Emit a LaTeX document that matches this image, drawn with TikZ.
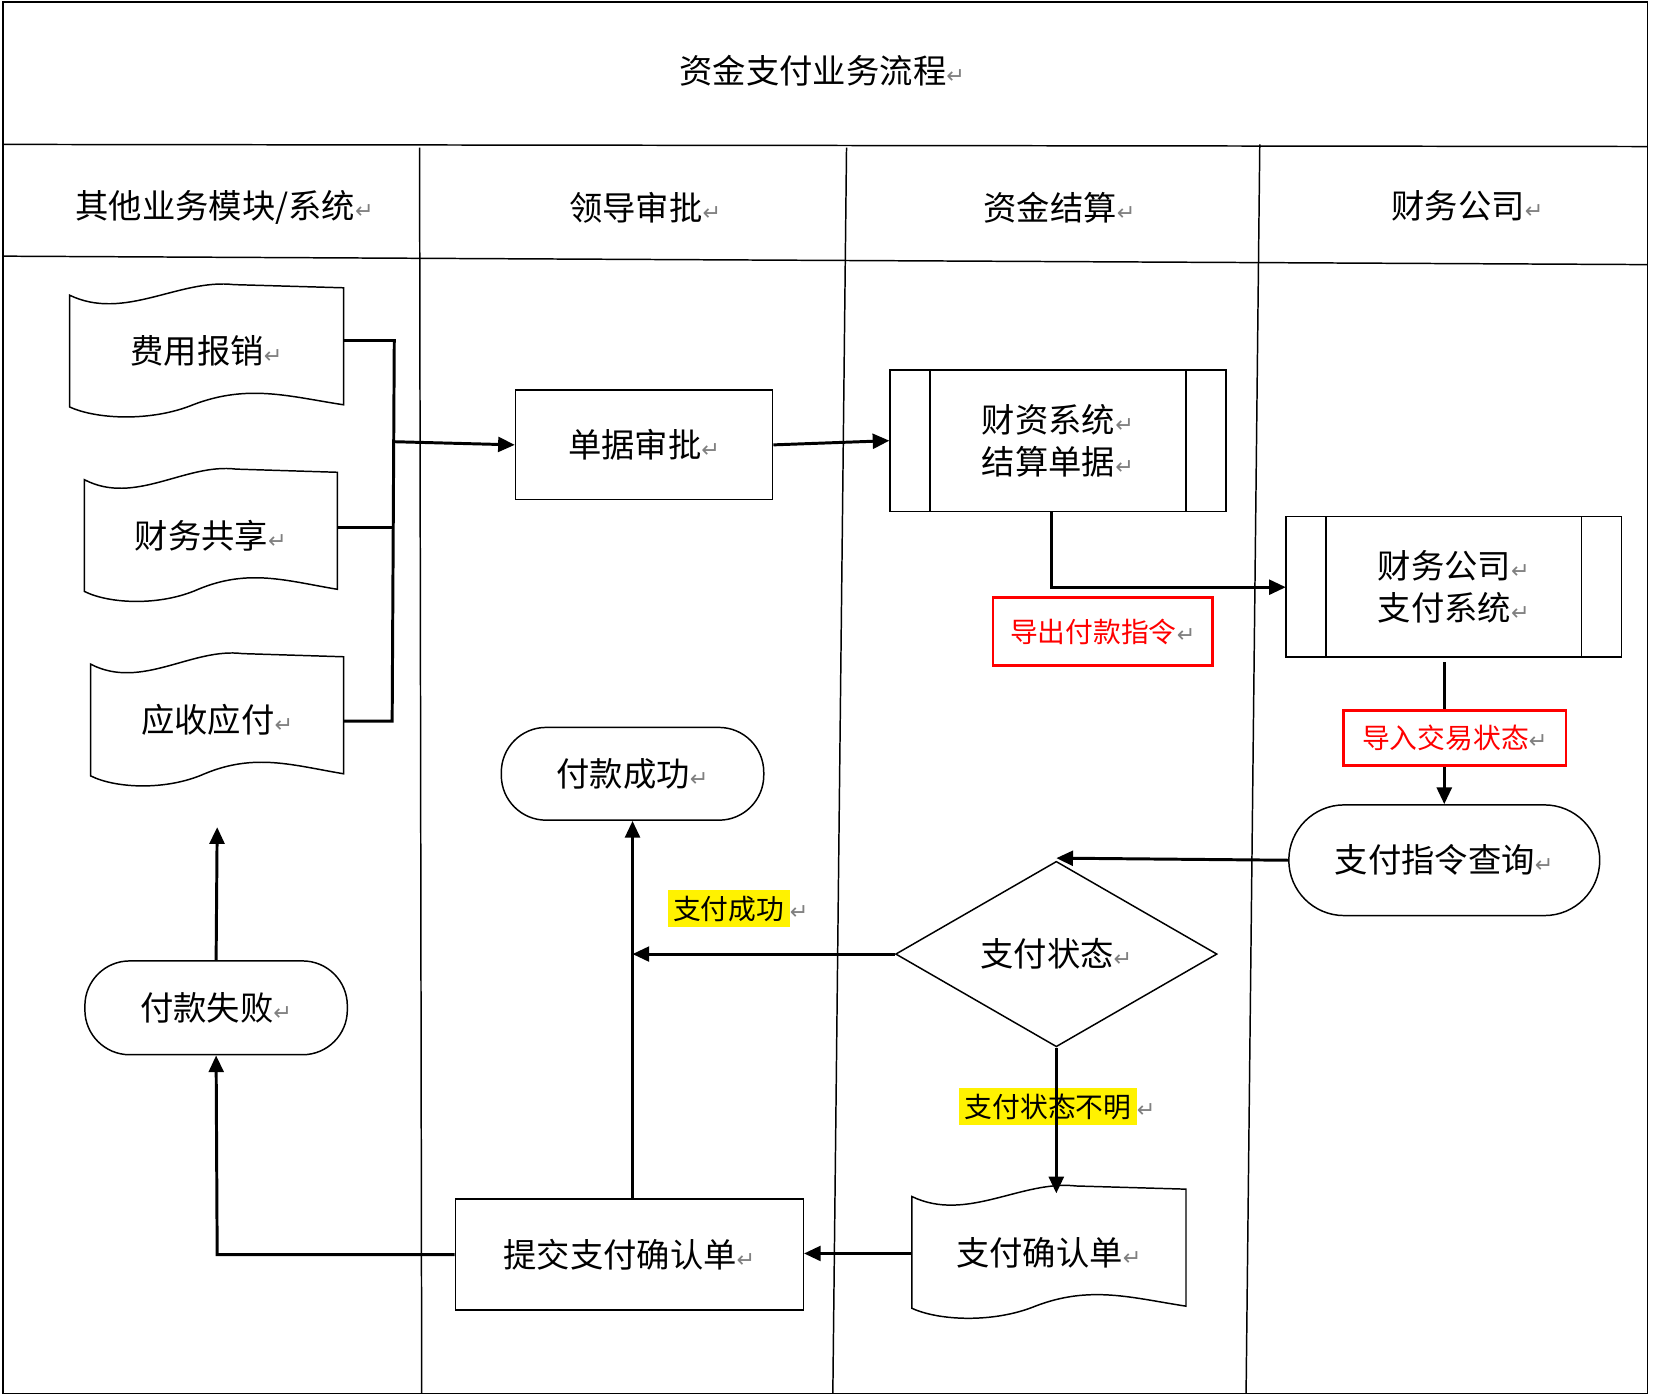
\documentclass[tikz,border=0pt]{standalone}
\usepackage{fontspec}
\setmainfont{Noto Sans CJK SC}
\newfontfamily\symf{DejaVu Sans}
\usetikzlibrary{arrows.meta,shapes.geometric}
\newcommand\pmk{\textcolor{gray}{\symf\fontsize{12}{12}\selectfont ↵}}
\tikzset{
  lane/.style={line width=0.8pt},
  flow/.style={line width=1.6pt},
  arr/.style={flow,-{Triangle[length=9pt,width=8pt]}},
  box/.style={draw,line width=0.8pt,inner sep=0pt},
  txt/.style={font=\fontsize{18}{23}\selectfont,align=center},
}
% wavy document: name, x1, y1, x2, y2, text
\newcommand\docnode[6]{%
  \node[txt,inner sep=0pt] (#1) at ({(#2+#4)/2},{(#3+#5)/2}) {#6};
  \draw[line width=0.8pt] (#2,{#3+10}) .. controls ({#2+0.2*(#4-#2)},{#3+35}) and ({#2+0.4*(#4-#2)},{#3-6}) .. ({#2+0.6*(#4-#2)},#3)
     -- (#4,{#3+3}) -- (#4,{#5-12}) .. controls ({#2+0.8*(#4-#2)},{#5-20}) and ({#2+0.65*(#4-#2)},{#5-32}) .. ({#2+0.45*(#4-#2)},{#5-12})
     .. controls ({#2+0.3*(#4-#2)},{#5+4}) and ({#2+0.1*(#4-#2)},{#5+2}) .. (#2,{#5-10}) -- cycle;
  \coordinate (#1-n) at ({(#2+#4)/2},#3);
  \coordinate (#1-s) at ({(#2+#4)/2},#5);
}
% box with double sides: name, x1, y1, x2, y2, inset, text
\newcommand\procnode[7]{%
  \draw[line width=0.8pt] (#2,#3) rectangle (#4,#5) ({#2+#6},#3) -- ({#2+#6},#5) ({#4-#6},#3) -- ({#4-#6},#5);
  \node[txt,minimum width={(#4-#2)*0.02cm},minimum height={(#5-#3)*0.02cm},inner sep=0pt] (#1) at ({(#2+#4)/2},{(#3+#5)/2}) {#7};
}
\begin{document}
\begin{tikzpicture}[x=0.02cm,y=-0.02cm]
  \useasboundingbox (0,0) rectangle (1568,1327);
  % frame and lanes
  \draw[lane] (3,2) rectangle (1563,1322);
  \draw[lane] (3,137) -- (1563,139);
  \draw[lane] (3,243) -- (1563,251);
  \draw[lane] (398,140) -- (400,1322);
  \draw[lane] (803,140) -- (790,1322);
  \draw[lane] (1195,137) -- (1182,1322);
  % titles
  \node[txt] (title) at (780,67) {资金支付业务流程\pmk};
  \node[txt] (h1) at (213,197) {其他业务模块/系统\pmk};
  \node[txt] (h2) at (612,197) {领导审批\pmk};
  \node[txt] (h3) at (1005,197) {资金结算\pmk};
  \node[txt] (h4) at (1392,195) {财务公司\pmk};

  % documents
  \docnode{fybx}{66}{270}{326}{396}{费用报销\pmk}
  \docnode{cwgx}{80}{445}{320}{571}{财务共享\pmk}
  \docnode{ysyf}{86}{620}{326}{746}{应收应付\pmk}
  \docnode{zfqrd}{865}{1125}{1125}{1251}{支付确认单\pmk}

  % boxes
  \node[box,txt,minimum width=4.88cm,minimum height=2.08cm] (djsp) at (611,422) {单据审批\pmk};
  \procnode{zxjs}{844}{351}{1163}{485}{38}{财资系统\pmk\\结算单据\pmk}
  \procnode{zfxt}{1220}{490}{1538}{623}{38}{财务公司\pmk\\支付系统\pmk}
  \node[box,txt,minimum width=6.6cm,minimum height=2.1cm] (tjqr) at (597,1190) {提交支付确认单\pmk};
  \node[box,txt,rounded corners=0.85cm,minimum width=4.98cm,minimum height=1.76cm] (fkcg) at (600,734) {付款成功\pmk};
  \node[box,txt,rounded corners=0.85cm,minimum width=4.98cm,minimum height=1.78cm] (fksb) at (205,956) {付款失败\pmk};
  \node[box,txt,rounded corners=1.05cm,minimum width=5.9cm,minimum height=2.1cm] (zfcx) at (1370,816) {支付指令查询\pmk};
  \node[box,txt,diamond,aspect=1.75,minimum width=6.1cm,minimum height=3.52cm] (zfzt) at (1002,905) {支付状态\pmk};

  % connectors
  \draw[flow] (326,323) -- (374,323) -- (372,684) -- (326,684);
  \draw[flow] (320,500) -- (373,500);
  \coordinate (jn) at (374,419);
  \draw[arr] (jn) -- (djsp.west);
  \draw[arr] (djsp.east) -- (zxjs.west);
  \draw[arr] (997,485) -- (997,557) -- (zfxt.west |- 0,557);
  \draw[arr] (zfcx.north |- zfxt.south) ++(0,5) -- (zfcx.north);
  \coordinate (ztop) at (1002,814);
  \draw[arr] (zfcx.west) -- (ztop);
  \draw[arr] (tjqr.north -| fkcg.south) -- (fkcg.south);
  \coordinate (jz) at (600,905);
  \draw[arr] (zfzt.west) -- (jz);
  \draw[arr] (865,1189) -- (tjqr.east |- 0,1189);
  \draw[arr] (tjqr.west) -- (206,1190) -- (fksb.south);
  \draw[arr] (fksb.north) -- ([yshift=-22]ysyf-s);

  % labels
  \node[draw=red,line width=1.4pt,fill=white,text=red,font=\fontsize{15}{18}\selectfont,minimum width=4.16cm,minimum height=1.3cm] (dcfk) at (1046,599) {导出付款指令\pmk};
  \node[draw=red,line width=1.4pt,fill=white,text=red,font=\fontsize{15}{18}\selectfont,minimum width=4.22cm,minimum height=1.04cm] (drjy) at (1380,700) {导入交易状态\pmk};
  \node[font=\fontsize{15}{18}\selectfont,inner sep=1pt] (lcg) at (700,862) {\colorbox{yellow}{支付成功}\pmk};
  \node[font=\fontsize{15}{18}\selectfont,inner sep=1pt] (lbm) at (1003,1050) {\colorbox{yellow}{支付状态不明}\pmk};
  \draw[arr] (zfzt.south) -- (zfzt.south |- 0,1132);
\end{tikzpicture}
\end{document}
